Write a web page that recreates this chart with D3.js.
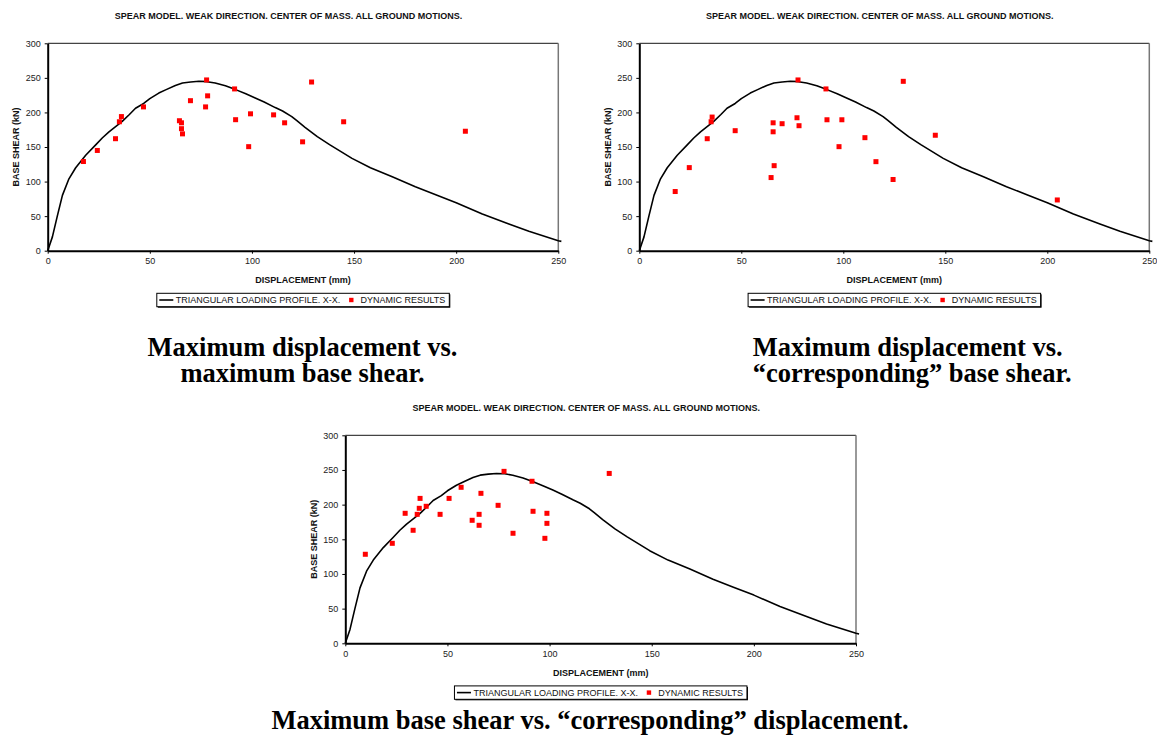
<!DOCTYPE html>
<html>
<head>
<meta charset="utf-8">
<script src="https://cdn.jsdelivr.net/npm/d3@7"></script>
<style>
  html, body { margin: 0; padding: 0; background: #fff; }
  svg { display: block; }
  .sans { font-family: "Liberation Sans", Arial, Helvetica, sans-serif; }
  .serif { font-family: "Liberation Serif", "Times New Roman", Times, serif; }
</style>
</head>
<body>
<svg id="page" width="1157" height="749"></svg>
<script>
// Pushover curve (triangular loading profile, X-X direction)
const curveDisp  = [0, 2.3, 4.7, 7.2, 10.4, 13.7, 18.6, 23.5, 26.7, 30, 36.5, 40, 43, 47, 50, 54.4, 58, 62.5, 66, 70, 74, 78, 82, 87, 92, 97, 101.6, 106, 111.4, 115, 119.5, 122, 126, 132, 138, 149, 158, 168.7, 180, 190, 200, 212.8, 225.8, 235.6, 250, 251.5];
const curveShear = [0, 20, 50, 80, 104, 120, 138, 153, 163, 172, 187, 197, 206, 213, 220, 228, 233, 239, 242.5, 244, 245, 244.5, 242.5, 238.5, 233, 227, 221, 215, 207, 202, 194, 188, 178.5, 165, 153.5, 133.6, 120, 107, 92.5, 81, 69.5, 53, 38.5, 28, 14.4, 13.5];

// Dynamic results: maximum displacement vs. maximum base shear
const maxDispA  = [17.5, 24.3, 33.2, 35.1, 36.1, 46.9, 64.5, 65.5, 65.5, 66.0, 69.9, 77.8, 77.3, 78.3, 91.5, 92.0, 98.4, 99.3, 110.6, 116.0, 124.8, 129.2, 144.9, 204.5];
const maxShearA = [129, 145, 162, 186.5, 194, 208, 188, 185, 176.5, 169, 217, 247, 208, 224, 234, 189.5, 150.5, 198, 196.5, 185, 157.5, 244, 186.5, 172.8];

// Dynamic results: maximum displacement vs. "corresponding" base shear
const maxDispB   = [17.6, 24.5, 33.3, 35.2, 35.7, 47.0, 64.6, 65.6, 65.6, 66.1, 70.0, 77.3, 77.8, 78.3, 91.5, 92.0, 97.9, 99.3, 110.6, 116.0, 124.4, 129.4, 145.1, 204.9];
const corrShearB = [85.6, 120.2, 162, 186.5, 193.3, 173.6, 105.8, 185, 172, 123, 183.7, 192.3, 247, 180.8, 234, 189.4, 150.5, 189.4, 163.5, 128.8, 103, 245, 167, 73.4];

// Dynamic results: maximum base shear vs. "corresponding" displacement
const corrDispC = [9.8, 23.0, 29.3, 33.2, 35.2, 36.2, 36.6, 39.6, 46.4, 50.8, 56.7, 62.1, 65.5, 65.5, 66.4, 74.8, 77.7, 82.1, 91.4, 91.9, 97.7, 98.7, 98.7, 129.2];
const maxShearC = [128.4, 144.2, 187.5, 163, 186, 194.7, 209, 197.6, 186, 209, 225, 177.4, 186, 170.2, 216.3, 199, 248, 158.7, 233.7, 190.4, 151.4, 187.5, 173, 245];

// Axis ticks and labels
const xTicks = [0, 50, 100, 150, 200, 250];
const yTicks = [0, 50, 100, 150, 200, 250, 300];
const chartTitle = "SPEAR MODEL. WEAK DIRECTION. CENTER OF MASS. ALL GROUND MOTIONS.";
const xTitle = "DISPLACEMENT (mm)";
const yTitle = "BASE SHEAR (kN)";
const legendLine = "TRIANGULAR LOADING PROFILE. X-X.";
const legendPoints = "DYNAMIC RESULTS";

const svg = d3.select("#page");
const curveRows = curveDisp.map((d, i) => ({ x: d, y: curveShear[i] }));

function drawPanel(box, xs, ys) {
  const g = svg.append("g");
  const x = d3.scaleLinear().domain([0, 250]).range([box.left, box.right]);
  const y = d3.scaleLinear().domain([0, 300]).range([box.bottom, box.top]);
  const cx = (box.left + box.right) / 2;

  // plot area frame: grey top/right edges
  g.append("line").attr("x1", box.left).attr("x2", box.right).attr("y1", box.top).attr("y2", box.top)
    .attr("stroke", "#444").attr("stroke-width", 1.2);
  g.append("line").attr("x1", box.right).attr("x2", box.right).attr("y1", box.top).attr("y2", box.bottom)
    .attr("stroke", "#777").attr("stroke-width", 1.5);

  // axes
  const ax = g.append("g").attr("transform", `translate(0,${box.bottom})`)
    .call(d3.axisBottom(x).tickValues(xTicks).tickSize(3).tickSizeOuter(0).tickPadding(4));
  const ay = g.append("g").attr("transform", `translate(${box.left},0)`)
    .call(d3.axisLeft(y).tickValues(yTicks).tickSize(3).tickSizeOuter(0).tickPadding(4));
  [ax, ay].forEach(a => {
    a.select(".domain").attr("stroke", "#000").attr("stroke-width", 2);
    a.selectAll(".tick line").attr("stroke", "#000").attr("stroke-width", 1);
    a.selectAll(".tick text").attr("class", "sans").attr("font-size", 9).attr("fill", "#222");
  });
  ax.selectAll(".tick text").attr("dy", "0.71em");

  // titles
  g.append("text").attr("class", "sans").attr("x", cx - 14.5).attr("y", box.top - 24.5)
    .attr("text-anchor", "middle").attr("font-size", 9).attr("font-weight", "bold").attr("fill", "#111")
    .text(chartTitle);
  g.append("text").attr("class", "sans").attr("x", cx).attr("y", box.bottom + 32.3)
    .attr("text-anchor", "middle").attr("font-size", 9).attr("font-weight", "bold").attr("fill", "#111")
    .text(xTitle);
  const ymid = (box.top + box.bottom) / 2;
  g.append("text").attr("class", "sans")
    .attr("transform", `translate(${box.left - 28.8},${ymid}) rotate(-90)`)
    .attr("text-anchor", "middle").attr("font-size", 9).attr("font-weight", "bold").attr("fill", "#111")
    .text(yTitle);

  // pushover curve
  const line = d3.line().x(d => x(d.x)).y(d => y(d.y));
  g.append("path").datum(curveRows).attr("d", line)
    .attr("fill", "none").attr("stroke", "#000").attr("stroke-width", 1.6).attr("stroke-linejoin", "round");

  // dynamic results
  const pts = xs.map((d, i) => ({ x: d, y: ys[i] }));
  const s = 5;
  g.selectAll("rect.pt").data(pts).join("rect").attr("class", "pt")
    .attr("x", d => x(d.x) - s / 2).attr("y", d => y(d.y) - s / 2)
    .attr("width", s).attr("height", s).attr("fill", "#ff0000");

  // legend
  const lx = cx - 146.2, ly = box.bottom + 42.6, lw = 292.5, lh = 13.4;
  const lg = g.append("g");
  lg.append("rect").attr("x", lx + 1).attr("y", ly + 1).attr("width", lw).attr("height", lh).attr("fill", "#000");
  lg.append("rect").attr("x", lx).attr("y", ly).attr("width", lw).attr("height", lh)
    .attr("fill", "#fff").attr("stroke", "#000").attr("stroke-width", 1);
  const lmid = ly + lh / 2;
  lg.append("line").attr("x1", lx + 2.5).attr("x2", lx + 16.5).attr("y1", lmid).attr("y2", lmid)
    .attr("stroke", "#000").attr("stroke-width", 1.6);
  lg.append("text").attr("class", "sans").attr("x", lx + 19).attr("y", lmid).attr("dy", "0.35em")
    .attr("font-size", 9).attr("fill", "#111").text(legendLine);
  lg.append("rect").attr("x", lx + 194.5 - 2.2).attr("y", lmid - 2.2).attr("width", 4.4).attr("height", 4.4)
    .attr("fill", "#ff0000");
  lg.append("text").attr("class", "sans").attr("x", lx + 203.7).attr("y", lmid).attr("dy", "0.35em")
    .attr("font-size", 9).attr("fill", "#111").text(legendPoints);
}

drawPanel({ left: 47.7, right: 558.3, top: 43.3, bottom: 250.7 }, maxDispA, maxShearA);
drawPanel({ left: 639.3, right: 1149.3, top: 43.3, bottom: 250.7 }, maxDispB, corrShearB);
drawPanel({ left: 345.3, right: 856, top: 435.3, bottom: 643.3 }, corrDispC, maxShearC);

// figure captions
function caption(xPos, yPos, anchor, str) {
  svg.append("text").attr("class", "serif").attr("x", xPos).attr("y", yPos)
    .attr("text-anchor", anchor).attr("font-size", 26.5).attr("font-weight", "bold").attr("fill", "#000")
    .text(str);
}
caption(302.5, 356, "middle", "Maximum displacement vs.");
caption(302.5, 382, "middle", "maximum base shear.");
caption(752.8, 356, "start", "Maximum displacement vs.");
caption(752.8, 382, "start", "\u201Ccorresponding\u201D base shear.");
caption(590, 729, "middle", "Maximum base shear vs. \u201Ccorresponding\u201D displacement.");
</script>
</body>
</html>
